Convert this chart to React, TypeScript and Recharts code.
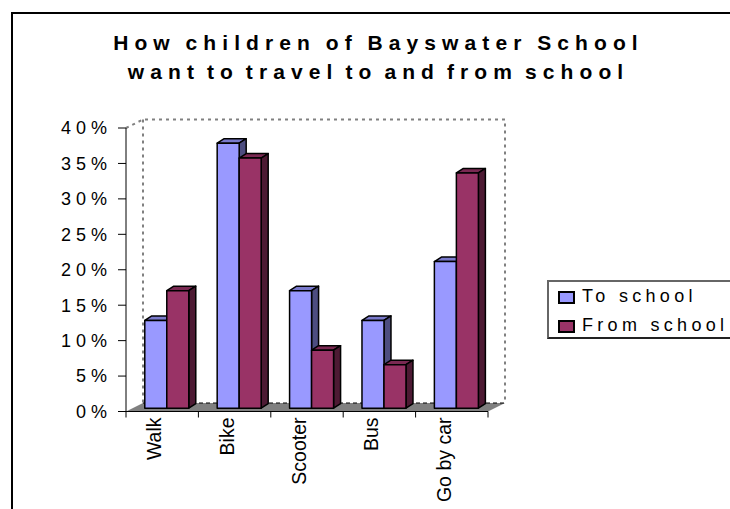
import { Bar, BarChart, Legend, XAxis, YAxis, usePlotArea } from "recharts";

const categories = ["Walk", "Bike", "Scooter", "Bus", "Go by car"];
const toSchool = [12.5, 37.5, 16.7, 12.5, 20.8];
const fromSchool = [16.7, 35.4, 8.3, 6.25, 33.3];
const yTicks = [0, 5, 10, 15, 20, 25, 30, 35, 40];
const titleLines = ["How children of Bayswater School", "want to travel to and from school"];

const data = categories.map((name, i) => ({
  name,
  to: toSchool[i],
  from: fromSchool[i],
}));

const FONT = "'Liberation Sans', Arial, sans-serif";
const PLOT_WIDTH = 362;
const WALL_DX = 17;
const WALL_DY = 8.5;
const BAR_DX = 7;
const BAR_DY = 4.5;

// back wall and floor of the fake 3d box
const Walls = () => {
  const plot = usePlotArea();
  if (!plot) return null;
  const { x, y, width, height } = plot;
  const bottom = y + height;
  const backX = x + WALL_DX;
  const backTop = y - WALL_DY;
  const backBottom = bottom - WALL_DY;
  const dash = { stroke: "#808080", strokeWidth: 2, strokeDasharray: "3 4", fill: "none" };
  return (
    <g>
      <polyline
        points={`${x},${y} ${backX},${backTop} ${backX + width},${backTop} ${backX + width},${backBottom}`}
        {...dash}
      />
      <line x1={backX} y1={backTop} x2={backX} y2={backBottom} {...dash} />
      <polygon
        points={`${x},${bottom} ${backX},${backBottom} ${backX + width},${backBottom} ${x + width},${bottom}`}
        fill="#808080"
      />
      <line
        x1={backX}
        y1={backBottom}
        x2={backX + width}
        y2={backBottom}
        stroke="#000"
        strokeDasharray="4 3"
      />
    </g>
  );
};

const Title = () => (
  <g>
    {titleLines.map((line, i) => (
      <text
        key={line}
        x={378.5}
        y={50 + i * 29}
        textAnchor="middle"
        fontFamily={FONT}
        fontSize={21}
        fontWeight="bold"
        letterSpacing={6.1}
        wordSpacing={i === 0 ? -2.2 : -5}
        fill="#000"
      >
        {line}
      </text>
    ))}
  </g>
);

const Box3D = (props: any) => {
  const { x, y, width, height, fill, topFill, sideFill } = props;
  // bars stand a little behind the front edge of the floor
  const left = x + 4.3;
  const top = y - 2.5;
  const right = left + width;
  const bottom = y + height - 3.3;
  return (
    <g stroke="#000" strokeWidth={1.5} strokeLinejoin="round">
      <polygon
        points={`${left},${top} ${left + BAR_DX},${top - BAR_DY} ${right + BAR_DX},${top - BAR_DY} ${right},${top}`}
        fill={topFill}
      />
      <polygon
        points={`${right},${top} ${right + BAR_DX},${top - BAR_DY} ${right + BAR_DX},${bottom - BAR_DY} ${right},${bottom}`}
        fill={sideFill}
      />
      <rect x={left} y={top} width={width} height={bottom - top} fill={fill} />
    </g>
  );
};

const CategoryTick = (props: any) => {
  const { x, y, payload, index } = props;
  const band = PLOT_WIDTH / categories.length;
  const left = x - band / 2;
  const labelX = x - 7;
  const labelY = y - 2;
  return (
    <g>
      <line x1={left} y1={y - 8} x2={left} y2={y - 2} stroke="#000" />
      {index === categories.length - 1 && (
        <line x1={left + band} y1={y - 8} x2={left + band} y2={y - 2} stroke="#000" />
      )}
      <text
        x={labelX}
        y={labelY}
        dy={6}
        textAnchor="end"
        transform={`rotate(-90 ${labelX} ${labelY})`}
        fontFamily={FONT}
        fontSize={19.5}
        fill="#000"
      >
        {payload.value}
      </text>
    </g>
  );
};

const LegendBox = ({ payload }: any) => (
  <div
    style={{
      boxSizing: "border-box",
      width: 184,
      height: 59,
      borderTop: "2px solid #666",
      borderLeft: "2px solid #666",
      borderBottom: "2px solid #222",
      fontFamily: FONT,
      fontSize: 18,
      letterSpacing: 4.3,
      color: "#000",
      whiteSpace: "nowrap",
    }}
  >
    {payload.map((item: any, i: number) => (
      <div
        key={item.value}
        style={{
          position: "absolute",
          left: 11,
          top: 6 + i * 29,
          height: 20,
          lineHeight: "20px",
          display: "flex",
          alignItems: "center",
        }}
      >
        <span
          style={{
            boxSizing: "border-box",
            width: 17,
            height: 13,
            marginRight: 7,
            marginTop: 2,
            background: item.color,
            border: "2px solid #000",
          }}
        />
        {item.value}
      </div>
    ))}
  </div>
);

export default function App() {
  return (
    <div
      style={{
        position: "absolute",
        left: 0,
        top: 0,
        width: 730,
        height: 509,
        overflow: "hidden",
        background: "#fff",
      }}
    >
      <div
        style={{
          position: "absolute",
          left: 11,
          top: 12,
          width: 730,
          height: 520,
          borderLeft: "2px solid #000",
          borderTop: "2px solid #000",
        }}
      />
      <div style={{ position: "absolute", left: 0, top: 0 }}>
        <BarChart
          width={730}
          height={509}
          data={data}
          margin={{ top: 128, right: 242, bottom: 37.5, left: 66 }}
          barGap={0}
          barCategoryGap="20%"
        >
          <Walls />
          <Title />
          <XAxis
            dataKey="name"
            height={60}
            interval={0}
            tickLine={false}
            axisLine={{ stroke: "#000" }}
            tick={<CategoryTick />}
          />
          <YAxis
            width={60}
            domain={[0, 40]}
            ticks={yTicks}
            tickFormatter={(v) => `${v}%`}
            tickSize={8}
            tickMargin={6}
            interval={0}
            axisLine={{ stroke: "#000" }}
            tickLine={{ stroke: "#000" }}
            tick={{ fill: "#000", fontSize: 18, fontFamily: FONT, letterSpacing: 5 }}
          />
          <Legend
            layout="horizontal"
            align="center"
            verticalAlign="middle"
            itemSorter={null}
            content={<LegendBox />}
            wrapperStyle={{ left: 547, top: 280, width: 184, height: 59 }}
          />
          <Bar
            dataKey="to"
            name="To school"
            fill="#9999FF"
            isAnimationActive={false}
            shape={<Box3D topFill="#7A7ACC" sideFill="#4D4D80" />}
          />
          <Bar
            dataKey="from"
            name="From school"
            fill="#993366"
            isAnimationActive={false}
            shape={<Box3D topFill="#7A2952" sideFill="#4D1A33" />}
          />
        </BarChart>
      </div>
    </div>
  );
}
